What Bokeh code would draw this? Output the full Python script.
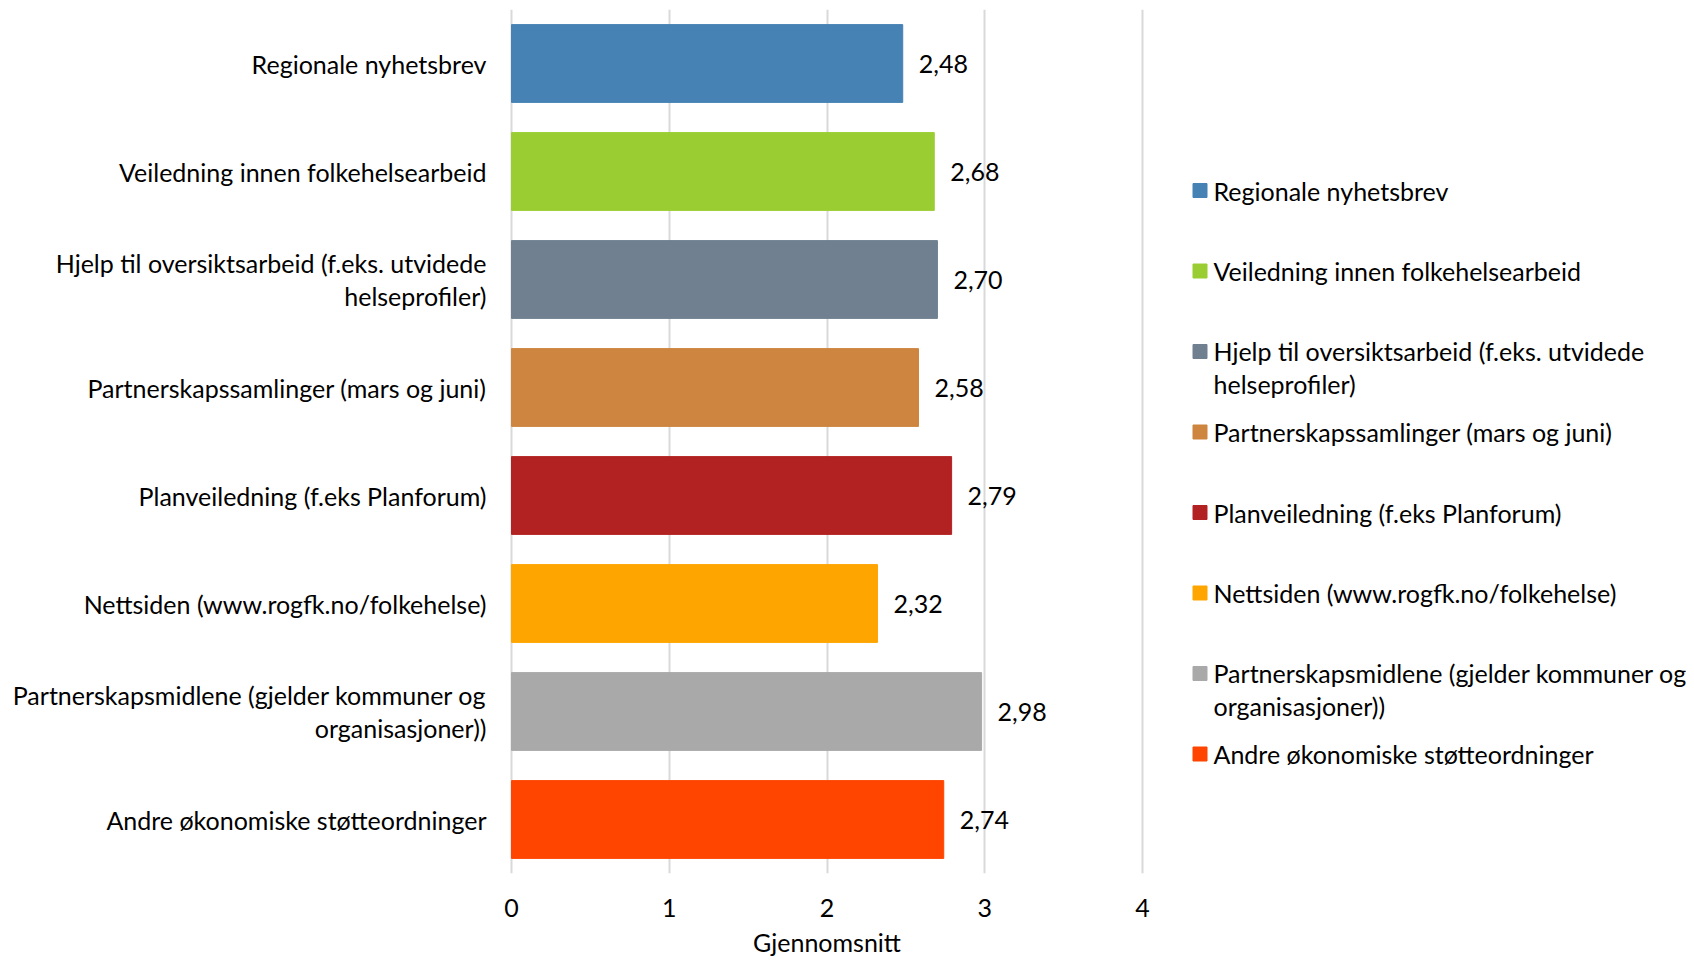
from bokeh.plotting import figure
from bokeh.models import ColumnDataSource, FactorRange, Range1d, FixedTicker
from bokeh.layouts import row
from bokeh.core.properties import value
from bokeh.embed import file_html
from bokeh.resources import INLINE

FONT = "Lato"
FS = 25

categories = [
    "Regionale nyhetsbrev",
    "Veiledning innen folkehelsearbeid",
    "Hjelp til oversiktsarbeid (f.eks. utvidede\nhelseprofiler)",
    "Partnerskapssamlinger (mars og juni)",
    "Planveiledning (f.eks Planforum)",
    "Nettsiden (www.rogfk.no/folkehelse)",
    "Partnerskapsmidlene (gjelder kommuner og\norganisasjoner))",
    "Andre økonomiske støtteordninger",
]
values = [2.48, 2.68, 2.70, 2.58, 2.79, 2.32, 2.98, 2.74]
colors = ["#4682B4", "#9ACD32", "#708090", "#CD853F",
          "#B22222", "#FFA500", "#A9A9A9", "#FF4500"]
x_ticks = [0, 1, 2, 3, 4]
x_title = "Gjennomsnitt"

labels = [f"{v:.2f}".replace(".", ",") for v in values]
src = ColumnDataSource(dict(cat=categories, val=values, color=colors, lab=labels))

W1, H = 1170, 960
FR_TOP, FR_BOT = 9, 873
FR_L, FR_R = 509, 1144          # frame edges (2px pad so the 0 and 4 gridlines are not clipped)
X0, X4 = 511, 1142              # pixel positions of 0 and 4
upp = 4 / (X4 - X0)
p = figure(width=W1, height=H, y_range=FactorRange(*reversed(categories)),
           x_range=Range1d(-(X0 - FR_L) * upp, 4 + (FR_R - X4) * upp),
           output_backend="svg", toolbar_location=None,
           min_border_left=FR_L, min_border_right=W1 - FR_R, min_border_top=FR_TOP,
           min_border_bottom=H - FR_BOT)
p.outline_line_color = None
p.hbar(y="cat", right="val", left=0, height=0.72, color="color", source=src)
p.text(x="val", y="cat", text="lab", source=src, x_offset=16, text_baseline="middle",
       text_align="left", text_font=value(FONT), text_font_size=f"{FS}px", text_color="#000000")

p.xaxis.ticker = FixedTicker(ticks=x_ticks)
p.xaxis.axis_label = x_title
p.xaxis.axis_line_color = None
p.xaxis.major_tick_line_color = None
p.xaxis.minor_tick_line_color = None
p.xaxis.major_tick_out = 0
p.xaxis.major_label_standoff = 25
p.xaxis.axis_label_standoff = 7
p.xaxis.major_label_text_font = FONT
p.xaxis.major_label_text_font_size = f"{FS}px"
p.xaxis.major_label_text_color = "#000000"
p.xaxis.axis_label_text_font = FONT
p.xaxis.axis_label_text_font_size = f"{FS}px"
p.xaxis.axis_label_text_font_style = "normal"
p.xaxis.axis_label_text_color = "#000000"

p.yaxis.axis_line_color = None
p.yaxis.major_tick_line_color = None
p.yaxis.major_tick_out = 0
p.yaxis.major_label_standoff = 23
p.yaxis.major_label_text_font = FONT
p.yaxis.major_label_text_font_size = f"{FS}px"
p.yaxis.major_label_text_color = "#000000"
p.yaxis.major_label_text_line_height = 1.12

p.ygrid.grid_line_color = None
p.xgrid.grid_line_color = "#d9d9d9"
p.xgrid.grid_line_width = 2

# legend panel (its frame is aligned with the chart frame by the row layout)
W2 = 516
lg = figure(width=W2, height=H, x_range=Range1d(0, W2), y_range=Range1d(FR_BOT, FR_TOP),
            output_backend="svg", toolbar_location=None, x_axis_type=None, y_axis_type=None,
            min_border_left=0, min_border_right=0, min_border_top=FR_TOP,
            min_border_bottom=H - FR_BOT)
lg.outline_line_color = None
lg.xgrid.grid_line_color = None
lg.ygrid.grid_line_color = None
row0, pitch, line_px, lh = 190, 80.5, 32.4, 1.12
ys = [row0 + pitch * i for i in range(len(categories))]
nl = [c.count("\n") for c in categories]
lsrc = ColumnDataSource(dict(y=ys, ty=[y + n * line_px / 2 for y, n in zip(ys, nl)],
                             color=colors, lab=categories))
lg.rect(x=29.5, y="y", width=14, height=14, color="color", source=lsrc)
lg.text(x=43, y="ty", text="lab", source=lsrc, text_baseline="middle", text_align="left",
        text_font=value(FONT), text_font_size=f"{FS}px", text_line_height=lh, text_color="#000000")

layout = row(p, lg)
open("out.html", "w").write(file_html(layout, INLINE))
